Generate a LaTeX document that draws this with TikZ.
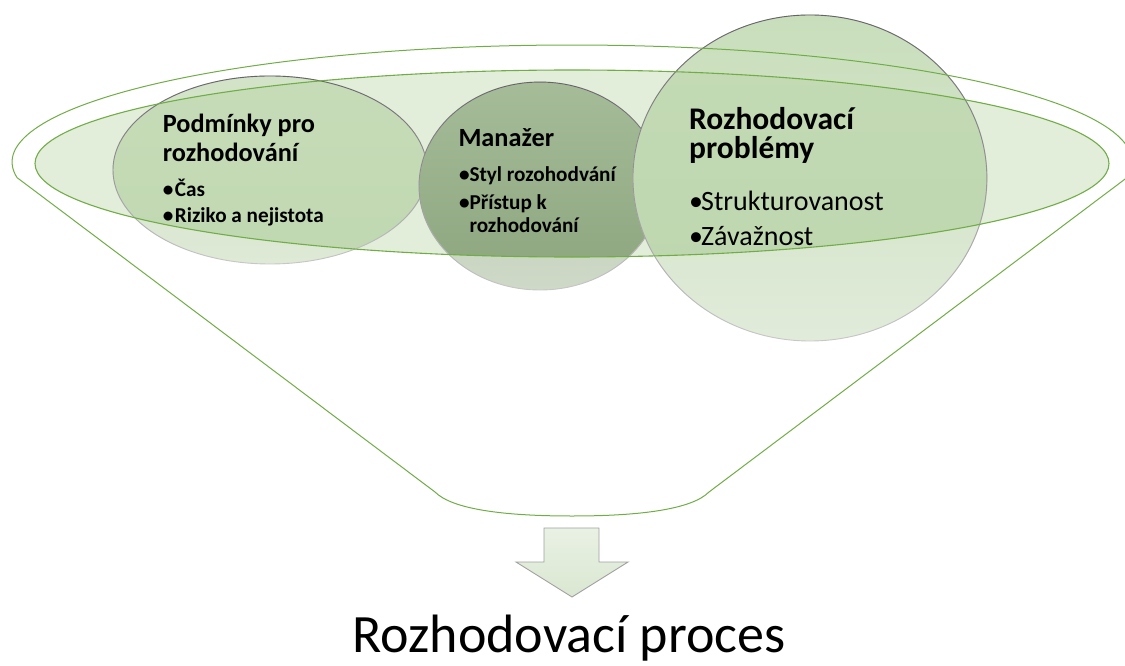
\documentclass[tikz,border=0pt]{standalone}
\usepackage{fontspec}
\setmainfont{Carlito}
\usetikzlibrary{fadings}

\definecolor{funnelgreen}{RGB}{112,173,71}
\definecolor{bandfill}{RGB}{226,237,218}
\definecolor{edgedark}{RGB}{100,100,100}
\definecolor{edgelight}{RGB}{200,200,200}
\definecolor{arrowedge}{RGB}{160,160,160}
\definecolor{arrowtop}{RGB}{233,241,228}
\definecolor{arrowbot}{RGB}{218,231,209}
% bubble colours: outside-top, outside-bottom, inside-top, inside-bottom
\definecolor{LoT}{RGB}{210,227,199}
\definecolor{LoB}{RGB}{222,233,214}
\definecolor{LiT}{RGB}{198,220,184}
\definecolor{LiB}{RGB}{192,216,178}
\definecolor{MoT}{RGB}{185,203,174}
\definecolor{MoB}{RGB}{206,217,199}
\definecolor{MiT}{RGB}{166,188,153}
\definecolor{MiB}{RGB}{140,165,126}
\definecolor{RoT}{RGB}{200,222,187}
\definecolor{RoB}{RGB}{225,235,218}
\definecolor{RiT}{RGB}{196,219,181}
\definecolor{RiB}{RGB}{189,214,174}

\tikzfading[name=edgefade, top color=transparent!0, bottom color=transparent!100]

\tikzset{
  greenline/.style={draw=funnelgreen, line width=1.1pt},
  lbl/.style={inner sep=0pt, anchor=base west, text=black},
  headS/.style={lbl, font=\bfseries\fontsize{26.3}{30}\selectfont},
  headL/.style={lbl, font=\bfseries\fontsize{31.5}{36}\selectfont},
  itemS/.style={lbl, font=\bfseries\fontsize{21.2}{25}\selectfont},
  itemL/.style={lbl, font=\fontsize{28}{33}\selectfont},
}

% one bubble: fill outside the band, darker fill inside the band, fading rim
\newcommand\bubble[4]{%
  \shade[top color=#4oT, bottom color=#4oB] (#1) ellipse [x radius=#2, y radius=#3];
  \begin{scope}
    \clip (band) ellipse [x radius=537, y radius=93.5];
    \shade[top color=#4iT, bottom color=#4iB] (#1) ellipse [x radius=#2, y radius=#3];
  \end{scope}
  \draw[edgelight, line width=0.9pt] (#1) ellipse [x radius=#2, y radius=#3];
  \draw[edgedark, line width=0.9pt, path fading=edgefade] (#1) ellipse [x radius=#2, y radius=#3];
}

\begin{document}
\begin{tikzpicture}[x=1pt, y=-1pt]
\useasboundingbox (0,0) rectangle (1125,666);

\coordinate (band) at (572,163.5);
\coordinate (cL) at (270,170);
\coordinate (cM) at (540,186);
\coordinate (cR) at (810,178);

% light band across the funnel mouth
\fill[bandfill] (band) ellipse [x radius=537, y radius=93.5];

% the three bubbles
\bubble{cL}{157}{94}{L}
\bubble{cM}{121}{104}{M}
\bubble{cR}{177}{163}{R}

% band outline
\draw[greenline] (band) ellipse [x radius=537, y radius=93.5];

% funnel outline
\coordinate (fr) at (1127,177.6);
\coordinate (fl) at (17,177.6);
\coordinate (bl) at (435,492);
\coordinate (br) at (709,492);
\coordinate (bm) at (572,516);
\draw[greenline, line width=1pt, line join=round]
  (br) -- (fr) arc [start angle=7.66, end angle=-187.66, x radius=560, y radius=117]
  -- (bl) .. controls (452,509) and (502,516) .. (bm)
          .. controls (642,516) and (692,509) .. (br);

% texts in the bubbles
\node[headS] (pA) at (162.7,132.3) {Podmínky pro};
\node[headS] (pB) at (162.7,161.7) {rozhodování};
\node[itemS] (pC) at (162.7,196.7) {\makebox[12pt][l]{•}Čas};
\node[itemS] (pD) at (162.7,222.3) {\makebox[12pt][l]{•}Riziko a nejistota};

\node[headS] (mA) at (458.3,147) {Manažer};
\node[itemS] (mB) at (458.8,182) {\makebox[10.5pt][l]{•}Styl rozohodvání};
\node[itemS] (mC) at (458.8,209.5) {\makebox[10.5pt][l]{•}Přístup k};
\node[itemS] (mD) at (469.3,232.5) {rozhodování};

\node[headL] (rA) at (689,129.3) {Rozhodovací};
\node[headL] (rB) at (689,158.3) {problémy};
\node[itemL] (rC) at (689,210.7) {\makebox[12pt][l]{•}Strukturovanost};
\node[itemL] (rD) at (689,245.7) {\makebox[12pt][l]{•}Závažnost};

% block arrow and result
\shade[top color=arrowtop, bottom color=arrowbot, draw=arrowedge, line width=0.9pt, line join=miter]
  (544,528) -- (599,528) -- (599,562) -- (628,562) -- (572,597) -- (516,562) -- (544,562) -- cycle;
\node[inner sep=0pt, anchor=base, font=\fontsize{54}{60}\selectfont] (proc) at (569,652.5) {Rozhodovací proces};
\end{tikzpicture}
\end{document}
